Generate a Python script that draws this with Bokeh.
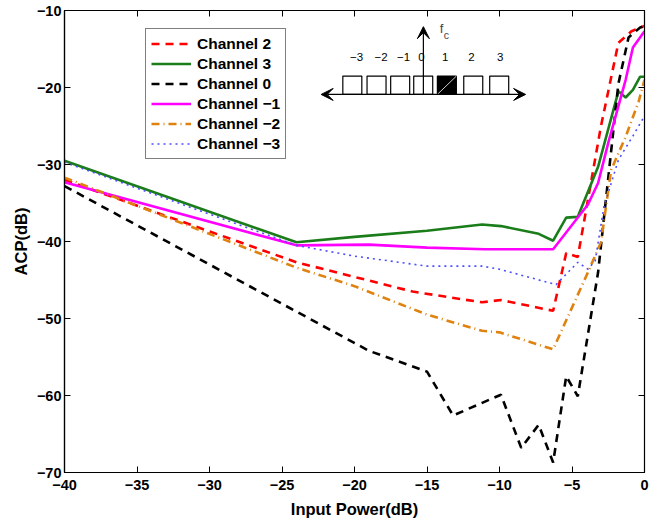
from bokeh.plotting import figure
from bokeh.models import (Legend, LegendItem, LinearAxis, FixedTicker, Range1d,
                          Arrow, VeeHead, Label)
from bokeh.embed import file_html
from bokeh.resources import INLINE

# ---------------- data ----------------
ch2_x = [-40, -24, -20, -16, -11.2, -9.9, -6.3, -5.4, -4.6, -3.0, -1.8, -0.9, 0]
ch2_y = [-32.0, -42.7, -44.6, -46.5, -47.9, -47.6, -49.0, -41.5, -42.0, -25.0, -14.2, -12.7, -12.0]

ch3_x = [-40, -24, -20, -15, -11.2, -9.9, -7.3, -6.3, -5.4, -4.6, -3.2, -1.8, -1.3, -0.8, -0.3, 0]
ch3_y = [-29.5, -40.1, -39.4, -38.6, -37.8, -38.0, -39.0, -39.9, -36.9, -36.8, -30.3, -20.5, -21.3, -20.3, -18.6, -18.6]

ch0_x = [-40, -19, -15, -13.2, -11.5, -9.9, -8.5, -7.3, -6.3, -5.4, -4.6, -3.2, -1.8, -1.1, -0.3, 0]
ch0_y = [-32.8, -54.2, -56.9, -62.6, -61.2, -59.9, -66.8, -63.8, -68.7, -57.5, -60.1, -44.0, -19.5, -13.5, -12.2, -12.0]

chm1_x = [-40, -24, -19, -15, -11, -6.3, -3.9, -3.2, -2.5, -1.3, -0.8, 0]
chm1_y = [-32.3, -40.5, -40.4, -40.8, -41.0, -41.0, -35.2, -32.4, -27.2, -19.0, -14.8, -12.7]

chm2_x = [-40, -24, -20, -15, -11.2, -10, -6.3, -3.9, -3.0, -2.3, -1.3, -0.4, 0]
chm2_y = [-31.7, -43.4, -45.8, -49.5, -51.6, -51.8, -54.0, -44.0, -40.1, -30.7, -26.4, -21.8, -19.0]

chm3_x = [-40, -24, -20, -15, -11.2, -10, -6.1, -4.6, -3.9, -3.4, -2.8, -1.8, -0.8, 0]
chm3_y = [-29.7, -40.5, -41.9, -43.2, -43.2, -43.6, -45.6, -42.7, -43.6, -42.5, -35.5, -29.4, -26.3, -23.7]

x_ticks = [-40, -35, -30, -25, -20, -15, -10, -5, 0]
y_ticks = [-70, -60, -50, -40, -30, -20, -10]

inset_labels = ["\u22123", "\u22122", "\u22121", "0", "1", "2", "3"]

FONT = "Liberation Sans"


def fmt(v):
    return ("\u2212%d" % -v) if v < 0 else "%d" % v


p = figure(width=649, height=522, output_backend="svg", toolbar_location=None,
           x_range=Range1d(-40, 0), y_range=Range1d(-70, -10),
           min_border_left=64, min_border_right=5, min_border_top=10,
           min_border_bottom=50)
p.xgrid.visible = False
p.ygrid.visible = False
p.outline_line_color = "black"
p.outline_line_width = 1.2
p.background_fill_color = "white"

for ax, ticks in ((p.xaxis[0], x_ticks), (p.yaxis[0], y_ticks)):
    ax.ticker = FixedTicker(ticks=ticks)
    ax.major_label_overrides = {t: fmt(t) for t in ticks}
    ax.minor_tick_line_color = None
    ax.major_tick_in = 6
    ax.major_tick_out = 0
    ax.axis_line_color = "black"
    ax.axis_line_width = 1.2
    ax.major_label_text_font = FONT
    ax.major_label_text_font_style = "bold"
    ax.major_label_text_font_size = "14.5px"
    ax.major_label_text_color = "black"
    ax.axis_label_text_font = FONT
    ax.axis_label_text_font_style = "bold"
    ax.axis_label_text_font_size = "16.5px"
    ax.axis_label_text_color = "black"

p.xaxis[0].axis_label = "Input Power(dB)"
p.xaxis[0].major_label_standoff = 7
p.xaxis[0].axis_label_standoff = 7
p.yaxis[0].axis_label = "ACP(dB)"
p.yaxis[0].major_label_standoff = 3
p.yaxis[0].axis_label_standoff = 4

# mirrored ticks (top / right)
for side, ticks in (("above", x_ticks), ("right", y_ticks)):
    a = LinearAxis(ticker=FixedTicker(ticks=ticks),
                   major_label_overrides={t: "" for t in ticks},
                   major_label_text_font_size="1px",
                   major_label_standoff=0, major_tick_in=6, major_tick_out=0,
                   minor_tick_line_color=None, axis_line_color="black")
    p.add_layout(a, side)

# ---------------- series ----------------
r2 = p.line(ch2_x, ch2_y, line_color="#ff0000", line_width=2.6, line_dash="8 6")
r3 = p.line(ch3_x, ch3_y, line_color="#1a7d1a", line_width=2.6)
r0 = p.line(ch0_x, ch0_y, line_color="black", line_width=2.6, line_dash="8 6")
rm1 = p.line(chm1_x, chm1_y, line_color="#ff00ff", line_width=2.6)
rm2 = p.line(chm2_x, chm2_y, line_color="#e0820f", line_width=2.6, line_dash="8 4 1 4")
rm3 = p.line(chm3_x, chm3_y, line_color="#4d4dff", line_width=1.6, line_dash="2 4")

legend = Legend(items=[
    LegendItem(label="Channel 2", renderers=[r2]),
    LegendItem(label="Channel 3", renderers=[r3]),
    LegendItem(label="Channel 0", renderers=[r0]),
    LegendItem(label="Channel \u22121", renderers=[rm1]),
    LegendItem(label="Channel \u22122", renderers=[rm2]),
    LegendItem(label="Channel \u22123", renderers=[rm3]),
], location=(81, 313))
legend.border_line_color = "black"
legend.border_line_width = 1.2
legend.background_fill_alpha = 1
legend.label_text_font = FONT
legend.label_text_font_style = "bold"
legend.label_text_font_size = "15.5px"
legend.label_text_color = "black"
legend.glyph_width = 40
legend.glyph_height = 19
legend.label_height = 19
legend.spacing = 1
legend.padding = 5
legend.margin = 0
legend.label_standoff = 6
p.add_layout(legend, "center")

# ---------------- inset diagram ----------------
box_x = [-20.15, -18.48, -16.85, -15.26, -13.63, -11.81, -10.02]
box_y = -19.71
box_w, box_h = 1.31, 2.38
fills = ["white", "white", "white", "white", "black", "white", "white"]
p.rect(box_x, [box_y] * 7, width=box_w, height=box_h, fill_color=fills,
       line_color="black", line_width=1.2)
p.line([box_x[4] - box_w / 2, box_x[4] + box_w / 2],
       [box_y - box_h / 2, box_y + box_h / 2], line_color="white", line_width=0.8)

p.add_layout(Arrow(start=VeeHead(size=12, fill_color="black", line_color="black"),
                   end=VeeHead(size=12, fill_color="black", line_color="black"),
                   x_start=-22.3, y_start=-20.9, x_end=-8.2, y_end=-20.9,
                   line_color="black", line_width=1.2))
p.add_layout(Arrow(end=VeeHead(size=12, fill_color="black", line_color="black"),
                   x_start=-15.25, y_start=-20.9, x_end=-15.25, y_end=-12.1,
                   line_color="black", line_width=1.2))

lab_x = [-19.86, -18.16, -16.62, -15.38, -13.74, -11.93, -9.95]
for lx, t in zip(lab_x, inset_labels):
    p.add_layout(Label(x=lx, y=-16.1, text=t, text_align="center",
                       text_baseline="middle", text_font=FONT,
                       text_font_size="11.5px", text_color="black"))
p.add_layout(Label(x=-14.12, y=-12.3, text="f", text_font=FONT,
                   text_font_size="13px", text_baseline="alphabetic"))
p.add_layout(Label(x=-13.85, y=-13.2, text="c", text_font=FONT,
                   text_font_size="10.5px", text_baseline="alphabetic"))

open("out.html", "w").write(file_html(p, INLINE))
